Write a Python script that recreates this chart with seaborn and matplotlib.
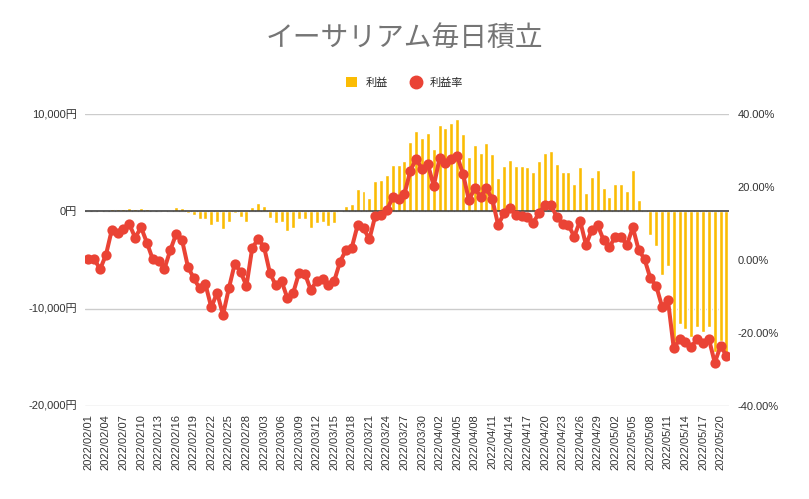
import numpy as np
import pandas as pd
import matplotlib
matplotlib.use("Agg")
import matplotlib.pyplot as plt
from matplotlib.patches import Patch
from matplotlib.lines import Line2D
import seaborn as sns

# daily values 2022/02/01 - 2022/05/21
dates = pd.date_range("2022-02-01", "2022-05-21").strftime("%Y/%m/%d").tolist()

profit = [
    0, 0, -50, 0, 220, 220, 230, 300, 220, 400,
    220, 0, 40, -100, 100, 500, 380, -160, -410, -750,
    -750, -1440, -1070, -1850, -1070, -160, -550, -1070, 440, 850,
    550, -650, -1230, -1100, -2000, -1750, -750, -750, -1660, -1230,
    -1120, -1530, -1230, -40, 580, 770, 2320, 2150, 1410, 3120,
    3260, 3780, 4810, 4740, 5180, 7140, 8270, 7550, 8070, 6460,
    8890, 8620, 9100, 9510, 8000, 5600, 6870, 6040, 7040, 5940,
    3470, 4670, 5320, 4670, 4670, 4570, 4050, 5180, 6010, 6210,
    4910, 4050, 4050, 2850, 4570, 1890, 3540, 4290, 2440, 1480,
    2850, 2850, 2060, 4290, 1200, 100, -2470, -3570, -6590, -5670,
    -13900, -11570, -12080, -12900, -11850, -12430, -11950, -14500, -13290, -14660,
]

rate = [
    0.19, 0.27, -2.55, 1.37, 8.23, 7.33, 8.43, 9.80, 6.12, 8.98,
    4.75, 0.19, -0.19, -2.39, 2.74, 7.14, 5.49, -1.84, -5.02, -7.77,
    -6.67, -12.98, -8.98, -15.10, -7.77, -1.10, -3.21, -7.14, 3.38, 5.68,
    3.65, -3.49, -6.94, -5.76, -10.51, -8.98, -3.49, -3.84, -8.23, -5.76,
    -5.22, -6.94, -5.76, -0.47, 2.74, 3.38, 9.61, 8.70, 5.68, 12.08,
    12.35, 13.72, 17.21, 16.66, 18.12, 24.51, 27.81, 24.90, 26.27, 20.31,
    27.92, 26.71, 27.81, 28.55, 23.61, 16.47, 19.68, 17.38, 19.68, 16.66,
    9.61, 12.82, 14.19, 12.43, 12.16, 11.89, 10.24, 12.98, 15.10, 15.10,
    11.89, 9.88, 9.61, 6.40, 10.79, 4.12, 8.23, 9.61, 5.49, 3.49,
    6.40, 6.23, 4.12, 8.98, 2.74, 0.27, -5.02, -7.14, -12.82, -10.98,
    -24.24, -21.77, -22.43, -23.80, -21.69, -22.87, -21.69, -28.19, -23.61, -26.27,
]

left_ticks = [10000, 0, -10000, -20000]
right_ticks = [40, 20, 0, -20, -40]

YELLOW = "#FBBC04"
RED = "#EA4335"

sns.set_theme(style="white")
plt.rcParams["font.family"] = ["Liberation Sans", "Noto Sans CJK JP", "DejaVu Sans"]

fig = plt.figure(figsize=(8.09, 4.99), dpi=100)
ax = fig.add_axes([0.1056, 0.187, 0.796, 0.584])
ax.set_axisbelow(True)

sns.barplot(x=dates, y=profit, color=YELLOW, saturation=1, width=0.68, ax=ax)
ax2 = ax.twinx()
sns.pointplot(x=dates, y=rate, color=RED, markersize=5.2, linewidth=2.9, ax=ax2)

ax.set_ylim(-20000, 10000)
ax2.set_ylim(-40, 40)
ax.set_xlim(-0.5, len(dates) - 0.5)

ax.set_yticks(left_ticks)
ax.set_yticklabels([f"{v:,}円" for v in left_ticks])
ax2.set_yticks(right_ticks)
ax2.set_yticklabels([f"{v:.2f}%" for v in right_ticks])

ax.set_xticks(range(0, len(dates), 3))
ax.set_xticklabels(dates[::3], rotation=90)

ax.grid(axis="y", color="#cccccc", linewidth=1)
ax.grid(axis="x", visible=False)
ax2.grid(False)
ax.axhline(0, color="#333333", linewidth=1.1, zorder=3)

for a in (ax, ax2):
    for s in a.spines.values():
        s.set_visible(False)
    a.set_xlabel("")
    a.set_ylabel("")
    a.tick_params(length=0, labelsize=8, colors="#333333", pad=6)

fig.suptitle("イーサリアム毎日積立", x=0.5, y=0.955, fontsize=20, color="#757575",
             family=["Noto Sans CJK JP"])

handles = [
    Patch(facecolor=YELLOW, edgecolor="none", label="利益"),
    Line2D([], [], color=RED, marker="o", linestyle="none", markersize=9, label="利益率"),
]
fig.legend(handles=handles, loc="center", bbox_to_anchor=(0.5, 0.834), ncol=2,
           frameon=False, handlelength=1.0, handleheight=1.0,
           columnspacing=2.0, handletextpad=0.8,
           prop={"family": ["Noto Sans CJK JP"], "size": 8})

fig.savefig("out.png", dpi=100)
